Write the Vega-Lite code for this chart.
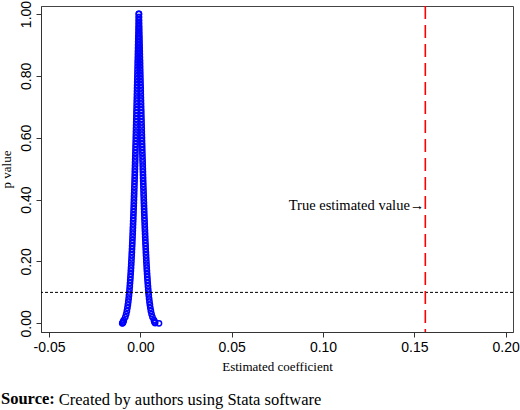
{
  "$schema": "https://vega.github.io/schema/vega-lite/v6.json",
  "width": 472,
  "height": 326,
  "autosize": {"type": "none"},
  "padding": {"left": 41, "top": 6, "right": 7, "bottom": 78},
  "background": "white",
  "config": {
    "view": {"stroke": "#444", "strokeWidth": 1},
    "axis": {
      "grid": false,
      "domainColor": "#333",
      "tickColor": "#333",
      "tickSize": 5,
      "labelColor": "black",
      "labelFont": "Liberation Sans",
      "labelFontSize": 14,
      "titleFont": "Liberation Serif",
      "titleFontSize": 13,
      "titleFontWeight": "normal",
      "titleColor": "black"
    }
  },
  "title": {
    "text": "Source:",
    "subtitle": "\u200b\u00a0\u00a0\u00a0\u00a0\u00a0\u00a0\u00a0\u00a0\u00a0\u00a0\u00a0\u00a0\u00a0\u00a0Created by authors using Stata software",
    "orient": "bottom",
    "anchor": "start",
    "frame": "group",
    "dx": -40,
    "offset": 18,
    "font": "Liberation Serif",
    "fontSize": 16.5,
    "fontWeight": "bold",
    "color": "black",
    "subtitleFont": "Liberation Serif",
    "subtitleFontSize": 16.5,
    "subtitleFontWeight": "normal",
    "subtitleColor": "black",
    "subtitlePadding": -15.5
  },
  "layer": [
    {
      "data": {
        "values": [
          {"p": 0.000, "lo": -0.0099, "hi": 0.0102},
          {"p": 0.001, "lo": -0.0097, "hi": 0.0081},
          {"p": 0.003, "lo": -0.0095, "hi": 0.0079},
          {"p": 0.006, "lo": -0.0093, "hi": 0.0077},
          {"p": 0.01, "lo": -0.00904, "hi": 0.00744},
          {"p": 0.02, "lo": -0.00824, "hi": 0.00664},
          {"p": 0.03, "lo": -0.00774, "hi": 0.00614},
          {"p": 0.04, "lo": -0.00737, "hi": 0.00577},
          {"p": 0.05, "lo": -0.00707, "hi": 0.00547},
          {"p": 0.06, "lo": -0.00682, "hi": 0.00522},
          {"p": 0.07, "lo": -0.00660, "hi": 0.00500},
          {"p": 0.08, "lo": -0.00640, "hi": 0.00480},
          {"p": 0.09, "lo": -0.00623, "hi": 0.00463},
          {"p": 0.10, "lo": -0.00606, "hi": 0.00446},
          {"p": 0.11, "lo": -0.00591, "hi": 0.00431},
          {"p": 0.12, "lo": -0.00578, "hi": 0.00418},
          {"p": 0.13, "lo": -0.00565, "hi": 0.00405},
          {"p": 0.14, "lo": -0.00552, "hi": 0.00392},
          {"p": 0.15, "lo": -0.00541, "hi": 0.00381},
          {"p": 0.16, "lo": -0.00530, "hi": 0.00370},
          {"p": 0.17, "lo": -0.00519, "hi": 0.00359},
          {"p": 0.18, "lo": -0.00509, "hi": 0.00349},
          {"p": 0.19, "lo": -0.00499, "hi": 0.00339},
          {"p": 0.20, "lo": -0.00490, "hi": 0.00330},
          {"p": 0.21, "lo": -0.00481, "hi": 0.00321},
          {"p": 0.22, "lo": -0.00472, "hi": 0.00312},
          {"p": 0.23, "lo": -0.00464, "hi": 0.00304},
          {"p": 0.24, "lo": -0.00456, "hi": 0.00296},
          {"p": 0.25, "lo": -0.00448, "hi": 0.00288},
          {"p": 0.26, "lo": -0.00440, "hi": 0.00280},
          {"p": 0.27, "lo": -0.00433, "hi": 0.00273},
          {"p": 0.28, "lo": -0.00426, "hi": 0.00266},
          {"p": 0.29, "lo": -0.00419, "hi": 0.00259},
          {"p": 0.30, "lo": -0.00412, "hi": 0.00252},
          {"p": 0.31, "lo": -0.00405, "hi": 0.00245},
          {"p": 0.32, "lo": -0.00398, "hi": 0.00238},
          {"p": 0.33, "lo": -0.00392, "hi": 0.00232},
          {"p": 0.34, "lo": -0.00385, "hi": 0.00225},
          {"p": 0.35, "lo": -0.00379, "hi": 0.00219},
          {"p": 0.36, "lo": -0.00373, "hi": 0.00213},
          {"p": 0.37, "lo": -0.00367, "hi": 0.00207},
          {"p": 0.38, "lo": -0.00361, "hi": 0.00201},
          {"p": 0.39, "lo": -0.00355, "hi": 0.00195},
          {"p": 0.40, "lo": -0.00349, "hi": 0.00189},
          {"p": 0.41, "lo": -0.00344, "hi": 0.00184},
          {"p": 0.42, "lo": -0.00338, "hi": 0.00178},
          {"p": 0.43, "lo": -0.00333, "hi": 0.00173},
          {"p": 0.44, "lo": -0.00327, "hi": 0.00167},
          {"p": 0.45, "lo": -0.00322, "hi": 0.00162},
          {"p": 0.46, "lo": -0.00316, "hi": 0.00156},
          {"p": 0.47, "lo": -0.00311, "hi": 0.00151},
          {"p": 0.48, "lo": -0.00306, "hi": 0.00146},
          {"p": 0.49, "lo": -0.00301, "hi": 0.00141},
          {"p": 0.50, "lo": -0.00296, "hi": 0.00136},
          {"p": 0.51, "lo": -0.00291, "hi": 0.00131},
          {"p": 0.52, "lo": -0.00286, "hi": 0.00126},
          {"p": 0.53, "lo": -0.00281, "hi": 0.00121},
          {"p": 0.54, "lo": -0.00276, "hi": 0.00116},
          {"p": 0.55, "lo": -0.00271, "hi": 0.00111},
          {"p": 0.56, "lo": -0.00266, "hi": 0.00106},
          {"p": 0.57, "lo": -0.00262, "hi": 0.00102},
          {"p": 0.58, "lo": -0.00257, "hi": 0.00097},
          {"p": 0.59, "lo": -0.00252, "hi": 0.00092},
          {"p": 0.60, "lo": -0.00248, "hi": 0.00088},
          {"p": 0.61, "lo": -0.00243, "hi": 0.00083},
          {"p": 0.62, "lo": -0.00239, "hi": 0.00079},
          {"p": 0.63, "lo": -0.00234, "hi": 0.00074},
          {"p": 0.64, "lo": -0.00230, "hi": 0.00070},
          {"p": 0.65, "lo": -0.00225, "hi": 0.00065},
          {"p": 0.66, "lo": -0.00221, "hi": 0.00061},
          {"p": 0.67, "lo": -0.00216, "hi": 0.00056},
          {"p": 0.68, "lo": -0.00212, "hi": 0.00052},
          {"p": 0.69, "lo": -0.00208, "hi": 0.00048},
          {"p": 0.70, "lo": -0.00203, "hi": 0.00043},
          {"p": 0.71, "lo": -0.00199, "hi": 0.00039},
          {"p": 0.72, "lo": -0.00195, "hi": 0.00035},
          {"p": 0.73, "lo": -0.00190, "hi": 0.00030},
          {"p": 0.74, "lo": -0.00186, "hi": 0.00026},
          {"p": 0.75, "lo": -0.00182, "hi": 0.00022},
          {"p": 0.76, "lo": -0.00178, "hi": 0.00018},
          {"p": 0.77, "lo": -0.00174, "hi": 0.00014},
          {"p": 0.78, "lo": -0.00169, "hi": 0.00009},
          {"p": 0.79, "lo": -0.00165, "hi": 0.00005},
          {"p": 0.80, "lo": -0.00161, "hi": 0.00001},
          {"p": 0.81, "lo": -0.00157, "hi": -0.00003},
          {"p": 0.82, "lo": -0.00153, "hi": -0.00007},
          {"p": 0.83, "lo": -0.00149, "hi": -0.00011},
          {"p": 0.84, "lo": -0.00145, "hi": -0.00015},
          {"p": 0.85, "lo": -0.00141, "hi": -0.00019},
          {"p": 0.86, "lo": -0.00136, "hi": -0.00024},
          {"p": 0.87, "lo": -0.00132, "hi": -0.00028},
          {"p": 0.88, "lo": -0.00128, "hi": -0.00032},
          {"p": 0.89, "lo": -0.00124, "hi": -0.00036},
          {"p": 0.90, "lo": -0.00120, "hi": -0.00040},
          {"p": 0.91, "lo": -0.00116, "hi": -0.00044},
          {"p": 0.92, "lo": -0.00112, "hi": -0.00048},
          {"p": 0.93, "lo": -0.00108, "hi": -0.00052},
          {"p": 0.94, "lo": -0.00104, "hi": -0.00056},
          {"p": 0.95, "lo": -0.00100, "hi": -0.00060},
          {"p": 0.96, "lo": -0.00096, "hi": -0.00064},
          {"p": 0.97, "lo": -0.00092, "hi": -0.00068},
          {"p": 0.98, "lo": -0.00088, "hi": -0.00072},
          {"p": 0.99, "lo": -0.00084, "hi": -0.00076},
          {"p": 1.00, "lo": -0.00080, "hi": -0.00080}
        ]
      },
      "transform": [{"fold": ["lo", "hi"], "as": ["side", "coef"]}],
      "mark": {"type": "point", "shape": "circle", "filled": false, "color": "#0000ff", "size": 28, "strokeWidth": 1.5, "opacity": 1, "clip": true},
      "encoding": {
        "x": {
          "field": "coef",
          "type": "quantitative",
          "scale": {"domain": [-0.05438, 0.204], "nice": false, "zero": false},
          "axis": {
            "title": "Estimated coefficient",
            "values": [-0.05, 0, 0.05, 0.1, 0.15, 0.2],
            "labelExpr": "datum.value < 0 ? '-' + format(-datum.value, '.2f') : format(datum.value, '.2f')",
            "labelPadding": 3,
            "titlePadding": 6
          }
        },
        "y": {
          "field": "p",
          "type": "quantitative",
          "scale": {"domain": [-0.0281, 1.0259], "nice": false, "zero": false},
          "axis": {
            "title": "p value",
            "values": [0, 0.2, 0.4, 0.6, 0.8, 1],
            "format": ".2f",
            "labelAngle": -90,
            "labelAlign": "center",
            "labelBaseline": "bottom",
            "labelPadding": 3,
            "titlePadding": 6
          }
        }
      }
    },
    {
      "data": {"values": [{"cutoff": 0.1}]},
      "mark": {"type": "rule", "color": "black", "strokeWidth": 1, "strokeDash": [3, 2]},
      "encoding": {"y": {"field": "cutoff", "type": "quantitative"}}
    },
    {
      "data": {"values": [{"true_value": 0.156}]},
      "mark": {"type": "rule", "color": "#ff0000", "strokeWidth": 1.6, "strokeDash": [13, 6]},
      "encoding": {"x": {"field": "true_value", "type": "quantitative"}}
    },
    {
      "data": {"values": [{"true_value": 0.156, "p": 0.38, "label": "True estimated value→"}]},
      "mark": {"type": "text", "align": "right", "baseline": "middle", "font": "Liberation Serif", "fontSize": 14.5, "color": "black", "dx": -1},
      "encoding": {
        "x": {"field": "true_value", "type": "quantitative"},
        "y": {"field": "p", "type": "quantitative"},
        "text": {"field": "label"}
      }
    }
  ]
}
